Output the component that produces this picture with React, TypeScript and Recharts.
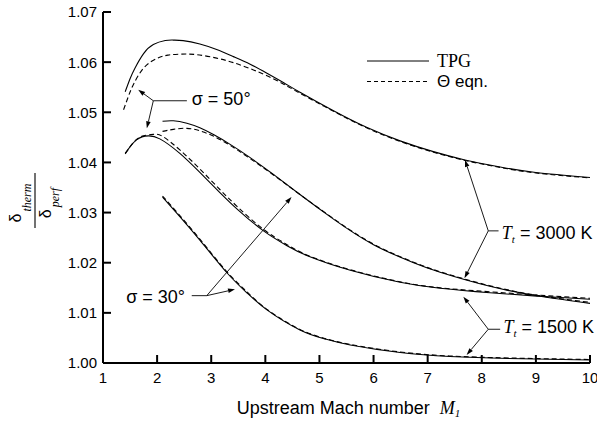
import React from 'react';
import { LineChart, Line, XAxis, YAxis, ReferenceLine, ReferenceDot, Legend } from 'recharts';

const SANS = '"Liberation Sans", Arial, Helvetica, sans-serif';
const SERIF = '"Liberation Serif", "Times New Roman", Times, serif';

// Axis ticks
const machTicks = [1, 2, 3, 4, 5, 6, 7, 8, 9, 10];
const ratioTicks = [1.0, 1.01, 1.02, 1.03, 1.04, 1.05, 1.06, 1.07];

// σ = 50°, T_t = 3000 K
const mach50Hot = [1.41, 1.5, 1.59, 1.75, 1.93, 2.15, 2.3, 2.48, 2.79, 3.1, 3.41, 3.72, 4.03, 4.34, 4.64, 5.26, 5.87, 6.49, 7.09, 7.69, 8.34, 9.0, 10.0];
const tpg50Hot = [1.0541, 1.0567, 1.0588, 1.0617, 1.0635, 1.0643, 1.0644, 1.0643, 1.0636, 1.0625, 1.0611, 1.0596, 1.0578, 1.0559, 1.054, 1.0503, 1.047, 1.0443, 1.0422, 1.0405, 1.0391, 1.038, 1.037];
const machTheta50Hot = [1.38, 1.47, 1.56, 1.75, 1.99, 2.2, 2.45, 2.73, 3.1, 3.41, 3.72, 4.03, 4.34, 4.64, 5.26, 5.87, 6.49, 7.09, 7.69, 8.34, 9.0, 10.0];
const theta50Hot = [1.0505, 1.0532, 1.0555, 1.0588, 1.0607, 1.0614, 1.0616, 1.0615, 1.0608, 1.0599, 1.0587, 1.0573, 1.0556, 1.0538, 1.0502, 1.0469, 1.0442, 1.0421, 1.0404, 1.039, 1.0379, 1.0369];

// σ = 50°, T_t = 1500 K
const mach50Cold = [1.41, 1.52, 1.62, 1.72, 1.84, 2.05, 2.42, 2.79, 3.16, 3.5, 3.96, 4.4, 4.8, 5.57, 6.49, 7.23, 8.15, 9.08, 10.0];
const tpg50Cold = [1.0418, 1.0434, 1.0445, 1.0451, 1.0453, 1.0447, 1.0418, 1.038, 1.034, 1.0305, 1.0264, 1.0234, 1.0213, 1.0185, 1.0161, 1.0149, 1.014, 1.0133, 1.0127];
const machTheta50Cold = [1.41, 1.52, 1.62, 1.75, 1.93, 2.1, 2.42, 2.79, 3.16, 3.5, 3.96, 4.4, 4.8, 5.57, 6.49, 7.23, 8.15, 9.08, 10.0];
const theta50Cold = [1.0417, 1.0434, 1.0446, 1.0453, 1.0456, 1.0452, 1.0425, 1.0387, 1.0346, 1.031, 1.0267, 1.0236, 1.0214, 1.0186, 1.0162, 1.015, 1.0142, 1.0135, 1.0129];

// σ = 30°, T_t = 3000 K
const mach30Hot = [2.1, 2.3, 2.55, 2.79, 3.05, 3.35, 3.7, 4.15, 4.64, 5.26, 6.0, 6.74, 7.23, 8.15, 9.08, 10.0];
const tpg30Hot = [1.0482, 1.0483, 1.0478, 1.0469, 1.0455, 1.0436, 1.0411, 1.0376, 1.0336, 1.0287, 1.0236, 1.02, 1.0181, 1.0153, 1.0133, 1.0119];
const theta30Hot = [1.0462, 1.0466, 1.0468, 1.0463, 1.0452, 1.0434, 1.0409, 1.0375, 1.0336, 1.0288, 1.0237, 1.0201, 1.0182, 1.0154, 1.0134, 1.0121];

// σ = 30°, T_t = 1500 K
const mach30Cold = [2.1, 2.42, 2.79, 3.29, 3.65, 4.03, 4.64, 5.1, 5.57, 6.49, 7.41, 8.5, 10.0];
const tpg30Cold = [1.0331, 1.0292, 1.0245, 1.018, 1.0141, 1.0106, 1.0066, 1.0048, 1.0036, 1.0021, 1.0013, 1.0009, 1.0006];
const theta30Cold = [1.0333, 1.0294, 1.0247, 1.0182, 1.0143, 1.0107, 1.0067, 1.0049, 1.0037, 1.0022, 1.0014, 1.001, 1.0007];

const toPoints = (xs: number[], ys: number[]) => xs.map((x, i) => ({ x, y: ys[i] }));

const series = [
  { id: 'tpg50Hot', data: toPoints(mach50Hot, tpg50Hot), dashed: false },
  { id: 'tpg50Cold', data: toPoints(mach50Cold, tpg50Cold), dashed: false },
  { id: 'tpg30Hot', data: toPoints(mach30Hot, tpg30Hot), dashed: false },
  { id: 'tpg30Cold', data: toPoints(mach30Cold, tpg30Cold), dashed: false },
  { id: 'theta50Hot', data: toPoints(machTheta50Hot, theta50Hot), dashed: true },
  { id: 'theta50Cold', data: toPoints(machTheta50Cold, theta50Cold), dashed: true },
  { id: 'theta30Hot', data: toPoints(mach30Hot, theta30Hot), dashed: true },
  { id: 'theta30Cold', data: toPoints(mach30Cold, theta30Cold), dashed: true },
];

// Leader lines for the annotations, in (Mach, ratio) units
const callouts: { from: [number, number]; to: [number, number]; head: boolean }[] = [
  { from: [2.55, 1.0523], to: [1.93, 1.0523], head: false },
  { from: [1.93, 1.0523], to: [1.65, 1.0545], head: true },
  { from: [1.93, 1.0523], to: [1.81, 1.0468], head: true },
  { from: [2.64, 1.01343], to: [2.917, 1.01343], head: false },
  { from: [2.917, 1.01343], to: [3.44, 1.0147], head: true },
  { from: [2.917, 1.01343], to: [4.484, 1.0331], head: true },
  { from: [8.31, 1.02635], to: [8.12, 1.02635], head: false },
  { from: [8.12, 1.02635], to: [7.69, 1.0405], head: true },
  { from: [8.12, 1.02635], to: [7.68, 1.0169], head: true },
  { from: [8.34, 1.00673], to: [8.12, 1.00673], head: false },
  { from: [8.12, 1.00673], to: [7.66, 1.01323], head: true },
  { from: [8.12, 1.00673], to: [7.72, 1.0016], head: true },
];

const sigmaNotes = [
  { x: 2.64, y: 1.0515, anchor: 'start', label: 'σ = 50°' },
  { x: 2.516, y: 1.01204, anchor: 'end', label: 'σ = 30°' },
];
const tempNotes = [
  { x: 8.37, y: 1.02465, label: '3000' },
  { x: 8.4, y: 1.00591, label: '1500' },
];

const arrowShape = (head: boolean) => (p: any) => {
  const { x1, y1, x2, y2 } = p;
  if (!head) return <line x1={x1} y1={y1} x2={x2} y2={y2} stroke="#000" strokeWidth={0.9} />;
  const dx = x2 - x1;
  const dy = y2 - y1;
  const len = Math.hypot(dx, dy) || 1;
  const ux = dx / len;
  const uy = dy / len;
  const L = 7;
  const W = 2.3;
  const bx = x2 - ux * L;
  const by = y2 - uy * L;
  const pts = `${x2},${y2} ${bx - uy * W},${by + ux * W} ${bx + uy * W},${by - ux * W}`;
  return (
    <g>
      <line x1={x1} y1={y1} x2={bx} y2={by} stroke="#000" strokeWidth={0.9} />
      <polygon points={pts} fill="#000" />
    </g>
  );
};

const YTick = (p: any) => (
  <g>
    <line x1={p.x + 6} x2={p.x + 14} y1={p.y} y2={p.y} stroke="#000" strokeWidth={2} />
    <text x={p.x} y={p.y} dy="0.36em" textAnchor="end" fontFamily={SANS} fontSize={15} fill="#000">
      {Number(p.payload.value).toFixed(2)}
    </text>
  </g>
);

const XTick = (p: any) => (
  <g>
    <line x1={p.x} x2={p.x} y1={p.y - 9} y2={p.y - 17} stroke="#000" strokeWidth={2} />
    <text x={p.x} y={p.y} dy="0.71em" textAnchor="middle" fontFamily={SANS} fontSize={15} fill="#000">
      {p.payload.value}
    </text>
  </g>
);

const XTitle = (p: any) => {
  const vb = p.viewBox;
  return (
    <text x={vb.x + vb.width / 2 + 2} y={vb.y + 50.5} textAnchor="middle" fontFamily={SANS} fontSize={18} fill="#000">
      Upstream Mach number{'\u00a0\u00a0'}
      <tspan fontFamily={SERIF} fontStyle="italic">M</tspan>
      <tspan fontFamily={SERIF} fontStyle="italic" fontSize={11} dy={3.5}>1</tspan>
    </text>
  );
};

// Ratio symbol δ_therm / δ_perf: laid out as a plain fraction, then the box is
// turned a quarter turn so that it reads upwards beside the value axis.
const RatioTitle = () => (
  <div
    style={{
      position: 'absolute',
      left: 4,
      top: 171,
      width: 64,
      height: 64,
      transform: 'rotate(-90deg)',
      transformOrigin: '50% 50%',
      pointerEvents: 'none',
    }}
  >
    <svg width={64} height={64} style={{ display: 'block' }}>
      <text x={32} y={17} textAnchor="middle" fontFamily={SANS} fontSize={16} fill="#000">
        δ
        <tspan dx={2} dy={10} fontFamily={SERIF} fontStyle="italic" fontSize={12}>therm</tspan>
      </text>
      <rect x={7} y={30.45} width={55} height={1.1} fill="#000" />
      <text x={32} y={47} textAnchor="middle" fontFamily={SANS} fontSize={16} fill="#000">
        δ
        <tspan dx={2} dy={8} fontFamily={SERIF} fontStyle="italic" fontSize={12}>perf</tspan>
      </text>
    </svg>
  </div>
);

const LegendBox = () => (
  <svg width={150} height={44} style={{ display: 'block' }}>
    <line x1={1} x2={63} y1={11} y2={11} stroke="#000" strokeWidth={1} />
    <text x={71} y={16.7} fontFamily={SERIF} fontSize={18} fill="#000">TPG</text>
    <line x1={1} x2={63} y1={31.5} y2={31.5} stroke="#000" strokeWidth={1} strokeDasharray="4 3" />
    <text x={71} y={36.5} fontFamily={SANS} fontSize={17} fill="#000">Θ eqn.</text>
  </svg>
);

export default function App() {
  return (
    <div style={{ position: 'absolute', left: 0, top: 0, width: 597, height: 423, background: '#fff' }}>
      <LineChart width={597} height={423} margin={{ top: 12, right: 7, bottom: 30, left: 0 }}>
        <XAxis
          dataKey="x"
          type="number"
          domain={[1, 10]}
          ticks={machTicks}
          interval={0}
          allowDuplicatedCategory={false}
          tickSize={0}
          tickMargin={9}
          tickLine={false}
          tick={XTick}
          height={30}
          axisLine={{ stroke: '#000', strokeWidth: 2 }}
          label={{ content: XTitle }}
        />
        <YAxis
          dataKey="y"
          type="number"
          domain={[1.0, 1.07]}
          ticks={ratioTicks}
          interval={0}
          tickSize={0}
          tickMargin={6}
          tickLine={false}
          tick={YTick}
          width={103}
          axisLine={{ stroke: '#000', strokeWidth: 2 }}
        />
        <Legend
          layout="vertical"
          align="center"
          verticalAlign="middle"
          content={LegendBox}
          wrapperStyle={{ left: 366, top: 50, width: 150, height: 44 }}
        />
        {series.map((s) => (
          <Line
            key={s.id}
            data={s.data}
            dataKey="y"
            type="natural"
            stroke="#000"
            strokeWidth={1.1}
            strokeDasharray={s.dashed ? '5 3' : undefined}
            dot={false}
            activeDot={false}
            isAnimationActive={false}
            legendType="none"
          />
        ))}
        {callouts.map((c, i) => (
          <ReferenceLine
            key={`c${i}`}
            segment={[{ x: c.from[0], y: c.from[1] }, { x: c.to[0], y: c.to[1] }]}
            ifOverflow="visible"
            shape={arrowShape(c.head)}
          />
        ))}
        {sigmaNotes.map((n, i) => (
          <ReferenceDot
            key={`s${i}`}
            x={n.x}
            y={n.y}
            ifOverflow="visible"
            shape={(p: any) => (
              <text x={p.cx} y={p.cy} textAnchor={n.anchor as any} fontFamily={SANS} fontSize={18} fill="#000">
                {n.label}
              </text>
            )}
          />
        ))}
        {tempNotes.map((n, i) => (
          <ReferenceDot
            key={`t${i}`}
            x={n.x}
            y={n.y}
            ifOverflow="visible"
            shape={(p: any) => (
              <text x={p.cx} y={p.cy} fontFamily={SANS} fontSize={18} fill="#000">
                <tspan fontFamily={SERIF} fontStyle="italic">T</tspan>
                <tspan fontFamily={SERIF} fontStyle="italic" fontSize={11} dy={4}>t</tspan>
                <tspan dy={-4}>{` = ${n.label} K`}</tspan>
              </text>
            )}
          />
        ))}
      </LineChart>
      <RatioTitle />
    </div>
  );
}
